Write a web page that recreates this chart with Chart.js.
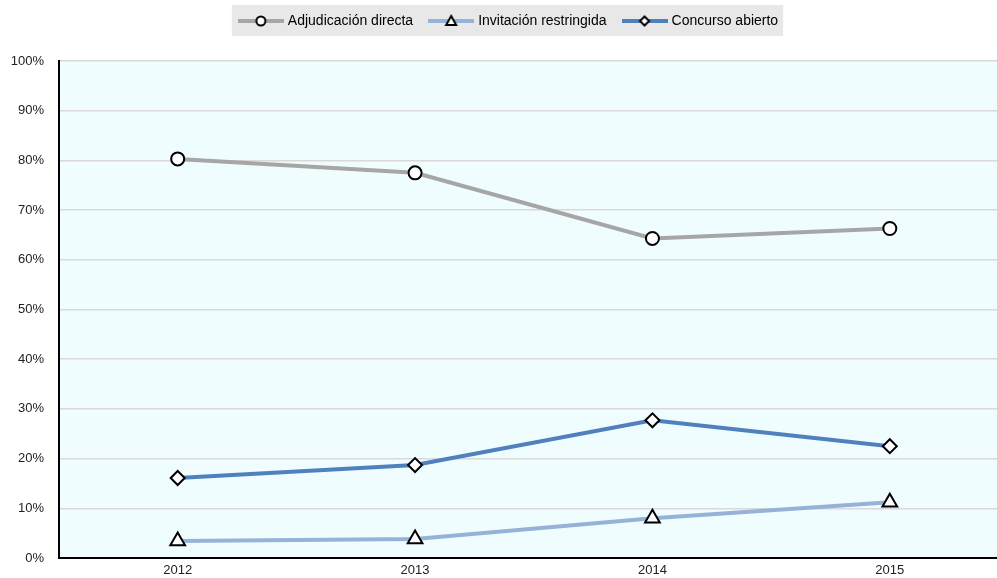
<!DOCTYPE html>
<html>
<head>
<meta charset="utf-8">
<script src="https://cdn.jsdelivr.net/npm/chart.js@4"></script>
<style>
    html, body { margin: 0; padding: 0; background: #fff; overflow: hidden; }
    #wrap { width: 1019px; height: 578px; }
</style>
</head>
<body>
<div id="wrap"><canvas id="myChart"></canvas></div>
<script>
const years = ['2012', '2013', '2014', '2015'];
const adjudicacion = [80.3, 77.5, 64.3, 66.3];
const invitacion = [3.4, 3.8, 8.0, 11.2];
const concurso = [16.1, 18.7, 27.7, 22.5];
const seriesNames = ['Adjudicación directa', 'Invitación restringida', 'Concurso abierto'];

const FONT = "'Liberation Sans Narrow', 'Arial Narrow', 'Liberation Sans', sans-serif";

// small canvas for the legend: line with the marker in the middle
const legendIcon = (color, style) => {
    const c = document.createElement('canvas');
    c.width = 46;
    c.height = 16;
    const ctx = c.getContext('2d');
    ctx.strokeStyle = color;
    ctx.lineWidth = 4;
    ctx.beginPath();
    ctx.moveTo(0, 8);
    ctx.lineTo(46, 8);
    ctx.stroke();
    ctx.fillStyle = '#fff';
    ctx.strokeStyle = '#000';
    ctx.lineWidth = 2;
    ctx.beginPath();
    if (style === 'circle') {
        ctx.arc(23, 8, 4.5, 0, Math.PI * 2);
    } else if (style === 'triangle') {
        ctx.moveTo(23, 3);
        ctx.lineTo(28, 12);
        ctx.lineTo(18, 12);
        ctx.closePath();
    } else {
        ctx.moveTo(23, 3.5);
        ctx.lineTo(27.5, 8);
        ctx.lineTo(23, 12.5);
        ctx.lineTo(18.5, 8);
        ctx.closePath();
    }
    ctx.fill();
    ctx.stroke();
    return c;
};

const icons = [
    legendIcon('#a6a6a6', 'circle'),
    legendIcon('#95b3d7', 'triangle'),
    legendIcon('#4f81bd', 'diamond')
];

// extra room under the legend
const legendMargin = {
    id: 'legendMargin',
    beforeInit(chart) {
        const fitOrig = chart.legend.fit;
        chart.legend.fit = function () {
            fitOrig.bind(chart.legend)();
            this.height += 23;
        };
    }
};

const backgrounds = {
    id: 'backgrounds',
    beforeDraw(chart) {
        const ctx = chart.ctx;
        const a = chart.chartArea;
        ctx.save();
        ctx.fillStyle = '#f0fdfe';
        ctx.fillRect(a.left, a.top, a.right - a.left, a.bottom - a.top);
        const boxes = chart.legend.legendHitBoxes;
        if (boxes && boxes.length) {
            const l = Math.min(...boxes.map(b => b.left)) - 9;
            const r = Math.max(...boxes.map(b => b.left + b.width)) + 5;
            ctx.fillStyle = '#e8e8e8';
            ctx.fillRect(l, 5, r - l, 31);
        }
        ctx.restore();
    }
};

const makeSet = (label, data, color, pointStyle, radius) => ({
    label: label,
    data: data,
    borderColor: color,
    backgroundColor: color,
    borderWidth: 4,
    pointStyle: pointStyle,
    pointRadius: radius,
    pointHoverRadius: radius,
    pointBackgroundColor: '#fff',
    pointBorderColor: '#000',
    pointBorderWidth: 2,
    tension: 0
});

const chart = new Chart(document.getElementById('myChart').getContext('2d'), {
    type: 'line',
    data: {
        labels: years,
        datasets: [
            makeSet(seriesNames[0], adjudicacion, '#a6a6a6', 'circle', 6.5),
            makeSet(seriesNames[1], invitacion, '#95b3d7', 'triangle', 8.5),
            makeSet(seriesNames[2], concurso, '#4f81bd', 'rectRot', 7)
        ]
    },
    options: {
        responsive: true,
        maintainAspectRatio: false,
        animation: false,
        devicePixelRatio: 1,
        layout: { padding: { left: 0, right: 0, top: -4, bottom: 0 } },
        plugins: {
            tooltip: { enabled: false },
            legend: {
                position: 'top',
                align: 'center',
                labels: {
                    usePointStyle: true,
                    pointStyleWidth: 40,
                    boxHeight: 14,
                    padding: 18,
                    color: '#000',
                    font: { family: FONT, size: 14 },
                    generateLabels: (ch) => ch.data.datasets.map((ds, i) => ({
                        text: ds.label,
                        pointStyle: icons[i],
                        fillStyle: ds.borderColor,
                        strokeStyle: ds.borderColor,
                        lineWidth: 0,
                        fontColor: '#000',
                        hidden: false,
                        datasetIndex: i
                    }))
                }
            }
        },
        scales: {
            x: {
                offset: true,
                afterFit: (scale) => { scale.height = 20; },
                grid: { display: false, drawTicks: false },
                border: { color: '#000', width: 2 },
                ticks: { color: '#222', padding: 5, font: { family: FONT, size: 13 } }
            },
            y: {
                min: 0,
                max: 100,
                afterFit: (scale) => {
                    scale.width = 59;
                    scale.paddingTop = 0;
                    scale.paddingBottom = 0;
                },
                grid: { color: '#d9d9d9', lineWidth: 1.5, drawTicks: false },
                border: { color: '#000', width: 2 },
                ticks: {
                    stepSize: 10,
                    padding: 15,
                    color: '#222',
                    font: { family: FONT, size: 13 },
                    callback: (v) => v + '%'
                }
            }
        }
    },
    plugins: [legendMargin, backgrounds]
});
</script>
</body>
</html>
